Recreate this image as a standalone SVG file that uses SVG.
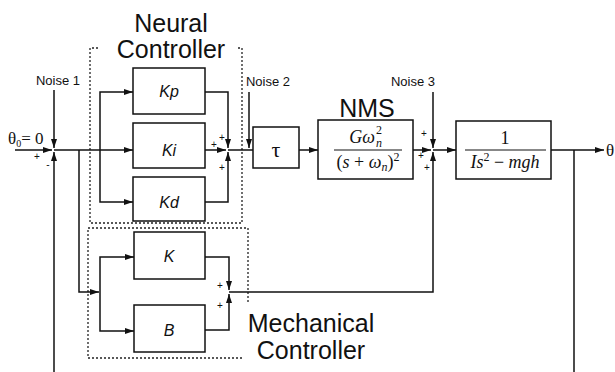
<svg xmlns="http://www.w3.org/2000/svg" width="615" height="372" viewBox="0 0 615 372">
<style>
.box{fill:#fff;stroke:#111;stroke-width:1.5}
.dot{fill:none;stroke:#222;stroke-width:1.3;stroke-dasharray:2,2}
.ln{fill:none;stroke:#111;stroke-width:1.5}
.big{font-family:"Liberation Sans",Arial,sans-serif;font-size:25px;fill:#111;text-anchor:middle}
.noise{font-family:"Liberation Sans",Arial,sans-serif;font-size:13px;fill:#111;text-anchor:middle}
.k{font-family:"Liberation Sans",Arial,sans-serif;font-size:16px;font-style:italic;fill:#111;text-anchor:middle}
.sg{font-family:"Liberation Sans",Arial,sans-serif;font-size:10px;fill:#111;text-anchor:middle}
.m{font-family:"Liberation Serif","Times New Roman",serif;font-size:18px;fill:#111;text-anchor:middle}
.ms{font-family:"Liberation Serif","Times New Roman",serif;font-size:12px;fill:#111}
.mi{font-style:italic}
.sm{font-size:12px}
</style>
<defs>
<marker id="ar" markerWidth="9" markerHeight="6" refX="9" refY="3" orient="auto" markerUnits="userSpaceOnUse">
<path d="M0,0 L9,3 L0,6 z" fill="#111"/>
</marker>
</defs>

<g id="neural-frame">
<path class="dot" d="M98,48 H90 V223 H242 V48 H237"/>
<text class="big" x="171" y="32">Neural</text>
<text class="big" x="171" y="58">Controller</text>
</g>
<g id="mech-frame">
<path class="dot" d="M242,358 H88 V228 H248 V302"/>
<text class="big" x="311" y="332">Mechanical</text>
<text class="big" x="311" y="359">Controller</text>
</g>

<g id="kp"><rect class="box" x="133" y="68" width="72" height="46"/><text class="k" x="169" y="97">Kp</text></g>
<g id="ki"><rect class="box" x="133" y="123" width="72" height="45"/><text class="k" x="169" y="156">Ki</text></g>
<g id="kd"><rect class="box" x="133" y="177" width="72" height="44"/><text class="k" x="169" y="208">Kd</text></g>
<g id="k"><rect class="box" x="134" y="232" width="71" height="47"/><text class="k" x="169" y="262">K</text></g>
<g id="b"><rect class="box" x="134" y="305" width="71" height="47"/><text class="k" x="169" y="336">B</text></g>
<g id="tau"><rect class="box" x="253" y="127" width="46" height="41"/><text x="276" y="157" font-family="Liberation Serif,serif" font-size="22" text-anchor="middle" fill="#111">τ</text></g>
<g id="nms">
<rect class="box" x="318" y="120" width="95" height="59"/>
<text class="big" x="367" y="117">NMS</text>
<text class="m" x="362" y="143"><tspan class="mi">Gω</tspan></text>
<text class="ms" x="376" y="134">2</text>
<text class="ms mi" x="376" y="147">n</text>
<line x1="334" y1="150" x2="402" y2="150" stroke="#111" stroke-width="1"/>
<text class="m" x="368" y="168">(<tspan class="mi">s</tspan> + <tspan class="mi">ω</tspan><tspan class="sm mi" dy="3">n</tspan><tspan dy="-3">)</tspan><tspan class="sm" dy="-7">2</tspan></text>
</g>
<g id="plant">
<rect class="box" x="456" y="121" width="95" height="58"/>
<text class="m" x="505" y="144">1</text>
<line x1="465" y1="150" x2="546" y2="150" stroke="#111" stroke-width="1"/>
<text class="m" x="505" y="168"><tspan class="mi">Is</tspan><tspan class="sm" dy="-7">2</tspan><tspan dy="7"> − </tspan><tspan class="mi">mgh</tspan></text>
</g>

<g id="labels">
<text class="noise" x="58" y="85">Noise 1</text>
<text class="noise" x="268" y="86">Noise 2</text>
<text class="noise" x="413" y="86">Noise 3</text>
<text x="8" y="144" font-family="Liberation Serif,serif" font-size="17" fill="#111">θ<tspan font-size="10" dy="3">0</tspan><tspan dy="-3">= 0</tspan></text>
<text x="606" y="156" font-family="Liberation Serif,serif" font-size="17" fill="#111">θ</text>
<text class="sg" x="37" y="160">+</text>
<text class="sg" x="48" y="168">-</text>
<text class="sg" x="222" y="141">+</text>
<text class="sg" x="214" y="148">+</text>
<text class="sg" x="222" y="171">+</text>
<text class="sg" x="424" y="137">+</text>
<text class="sg" x="421" y="159">+</text>
<text class="sg" x="427" y="171">+</text>
<text class="sg" x="220" y="289">+</text>
<text class="sg" x="220" y="309">+</text>
</g>

<g id="connectors">
<path class="ln" d="M54,90 V148" marker-end="url(#ar)"/>
<path class="ln" d="M54,372 V152" marker-end="url(#ar)"/>
<path class="ln" d="M15,150 H52" marker-end="url(#ar)"/>
<path class="ln" d="M54,150 H133" marker-end="url(#ar)"/>
<path class="ln" d="M100,150 V92 H133" marker-end="url(#ar)"/>
<path class="ln" d="M100,150 V202 H133" marker-end="url(#ar)"/>
<path class="ln" d="M79,150 V292 H99" marker-end="url(#ar)"/>
<path class="ln" d="M100,292 V257 H134" marker-end="url(#ar)"/>
<path class="ln" d="M100,292 V331 H134" marker-end="url(#ar)"/>
<path class="ln" d="M205,92 H228 V148" marker-end="url(#ar)"/>
<path class="ln" d="M205,150 H226" marker-end="url(#ar)"/>
<path class="ln" d="M205,202 H228 V152" marker-end="url(#ar)"/>
<path class="ln" d="M228,150 H253"/>
<path class="ln" d="M249,92 V148" marker-end="url(#ar)"/>
<path class="ln" d="M299,150 H318" marker-end="url(#ar)"/>
<path class="ln" d="M413,150 H431" marker-end="url(#ar)"/>
<path class="ln" d="M433,92 V148" marker-end="url(#ar)"/>
<path class="ln" d="M229,292 H433 V152" marker-end="url(#ar)"/>
<path class="ln" d="M433,150 H456" marker-end="url(#ar)"/>
<path class="ln" d="M551,150 H604" marker-end="url(#ar)"/>
<path class="ln" d="M574,150 V372"/>
<path class="ln" d="M205,257 H229 V290" marker-end="url(#ar)"/>
<path class="ln" d="M205,330 H229 V294" marker-end="url(#ar)"/>
</g>
</svg>
